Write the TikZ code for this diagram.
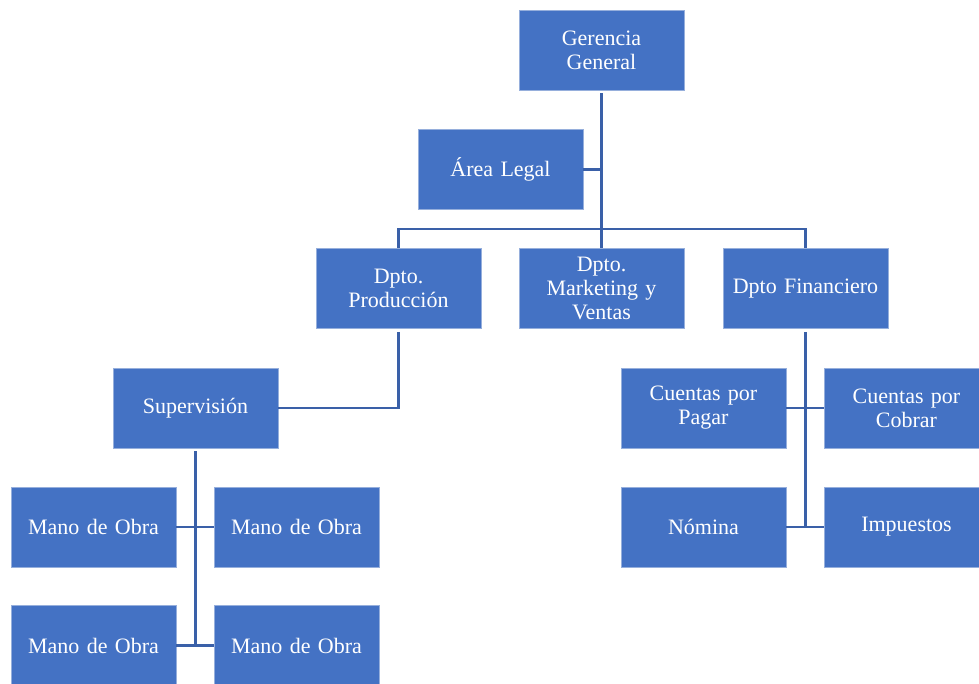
\documentclass[tikz,border=0pt]{standalone}
\usepackage{fontspec}
\setmainfont{Liberation Serif}
\definecolor{boxblue}{RGB}{68,114,196}
\definecolor{edgeblue}{RGB}{150,175,220}
\definecolor{linkblue}{RGB}{58,96,168}
\tikzset{
  orgbox/.style={rectangle, fill=boxblue, draw=edgeblue, line width=0.6pt,
    minimum width=165pt, minimum height=80pt, inner sep=2pt,
    text=white, align=center, text width=160pt,
    font=\fontsize{22}{24}\selectfont},
  conn/.style={draw=linkblue, line width=2.6pt}
}
\begin{document}
\begin{tikzpicture}[x=1pt,y=-1pt]
\useasboundingbox (0,0) rectangle (979,684);
\node[orgbox] (gg) at (601.5,50) {Gerencia\\General};
\node[orgbox] (al) at (500.5,169.5) {Área Legal};
\node[orgbox] (dp) at (398.5,288.5) {Dpto.\\Producción};
\node[orgbox] (dm) at (601.5,288.5) {Dpto.\\Marketing y\\Ventas};
\node[orgbox] (df) at (805.5,288.5) {Dpto Financiero};
\node[orgbox] (sup) at (195.5,408) {Supervisión};
\node[orgbox] (m1) at (93.5,527) {Mano de Obra};
\node[orgbox] (m2) at (296.5,527) {Mano de Obra};
\node[orgbox] (m3) at (93.5,645.5) {Mano de Obra};
\node[orgbox] (m4) at (296.5,645.5) {Mano de Obra};
\node[orgbox] (cp) at (703.5,408) {Cuentas por\\Pagar};
\node[orgbox] (cc) at (906.5,408) {Cuentas por\\Cobrar};
\node[orgbox] (nom) at (703.5,527) {Nómina};
\node[orgbox] (imp) at (906.5,527) {Impuestos};
\coordinate (bus) at (601.5,229);
\draw[conn] ([yshift=-3pt]gg.south) -- (bus);
\draw[conn] (al.east) -- (al.east -| gg.south);
\draw[conn] (dp.north) |- (bus) -| (df.north);
\draw[conn] (bus) -- (dm.north);
\draw[conn] ([yshift=-3pt]dp.south) |- (sup.east);
\draw[conn] ([yshift=-3pt]sup.south) -- (sup.south |- m3.east);
\draw[conn] (m1.east) -- (m2.west);
\draw[conn] (m3.east) -- (m4.west);
\draw[conn] ([yshift=-3pt]df.south) -- (df.south |- nom.east);
\draw[conn] (cp.east) -- (cc.west);
\draw[conn] (nom.east) -- (imp.west);
\end{tikzpicture}
\end{document}
